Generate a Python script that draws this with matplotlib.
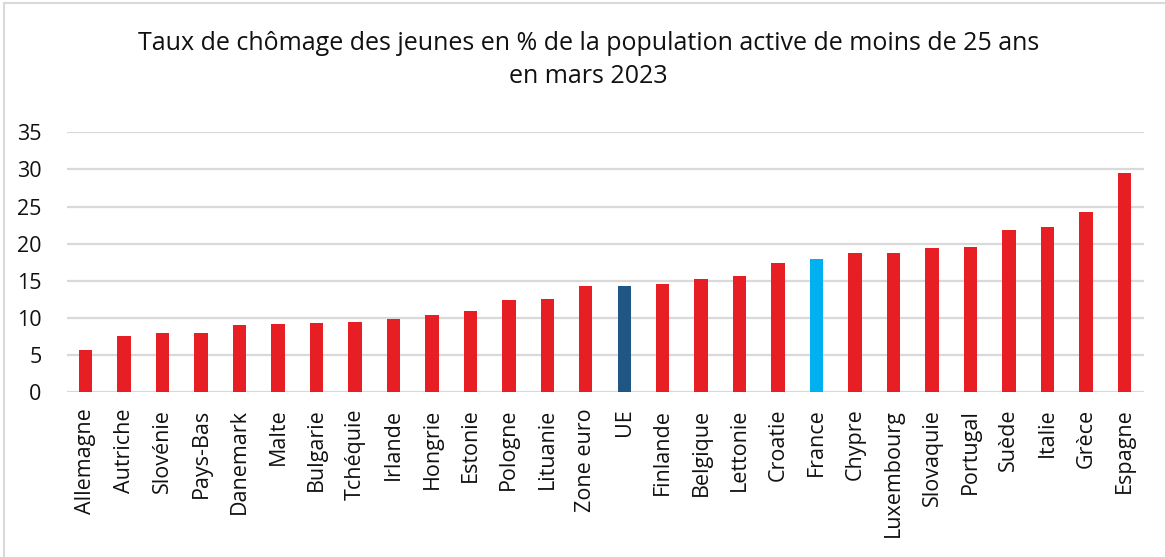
import matplotlib
matplotlib.use("Agg")
import matplotlib.pyplot as plt
from matplotlib.patches import Rectangle

countries = ["Allemagne", "Autriche", "Slovénie", "Pays-Bas", "Danemark", "Malte",
             "Bulgarie", "Tchéquie", "Irlande", "Hongrie", "Estonie", "Pologne",
             "Lituanie", "Zone euro", "UE", "Finlande", "Belgique", "Lettonie",
             "Croatie", "France", "Chypre", "Luxembourg", "Slovaquie", "Portugal",
             "Suède", "Italie", "Grèce", "Espagne"]
values = [5.6, 7.5, 7.9, 8.0, 9.0, 9.2, 9.3, 9.5, 9.9, 10.4, 10.9, 12.4,
          12.6, 14.3, 14.3, 14.6, 15.2, 15.7, 17.4, 17.9, 18.7, 18.7, 19.4, 19.5,
          21.9, 22.3, 24.2, 29.5]
yticks = [0, 5, 10, 15, 20, 25, 30, 35]
title_lines = ["Taux de chômage des jeunes en % de la population active de moins de 25 ans",
               "en mars 2023"]

RED = "#E81E25"
DARK = "#1F5684"
LIGHT = "#00B0F0"
colors = [DARK if c == "UE" else LIGHT if c == "France" else RED for c in countries]

plt.rcParams["font.family"] = ["Open Sans", "DejaVu Sans"]

fig = plt.figure(figsize=(11.65, 5.57), dpi=100)
ax = fig.add_axes([66.5 / 1165, 1 - 392 / 557, (1143.5 - 66.5) / 1165, (392 - 132.3) / 557])

x = list(range(len(countries)))
ax.bar(x, values, width=0.35, color=colors, zorder=3)
ax.set_xlim(-0.5, len(countries) - 0.5)
ax.set_ylim(0, 35)
ax.set_yticks(yticks)
ax.set_yticklabels([str(t) for t in yticks], fontsize=15.5)
ax.set_xticks(x)
ax.set_xticklabels(countries, rotation=90, fontsize=15.5, va="top", ha="center")
ax.tick_params(axis="y", length=0, pad=18, colors="#111111")
ax.tick_params(axis="x", length=0, pad=12, colors="#111111")
ax.grid(axis="y", color="#D9D9D9", linewidth=1.6, zorder=0)
ax.set_axisbelow(True)
for s in ax.spines.values():
    s.set_visible(False)

for i, (line, base) in enumerate(zip(title_lines, [50, 83])):
    fig.text(0.505, 1 - base / 557, line, ha="center", va="baseline", fontsize=18,
             color="#111111")

fig.patches.append(Rectangle((4 / 1165, -0.1), 1.2, 1 - 3 / 557 + 0.1, transform=fig.transFigure,
                             fill=False, edgecolor="#D9D9D9", linewidth=1.5))

fig.savefig("out.png", dpi=100)
